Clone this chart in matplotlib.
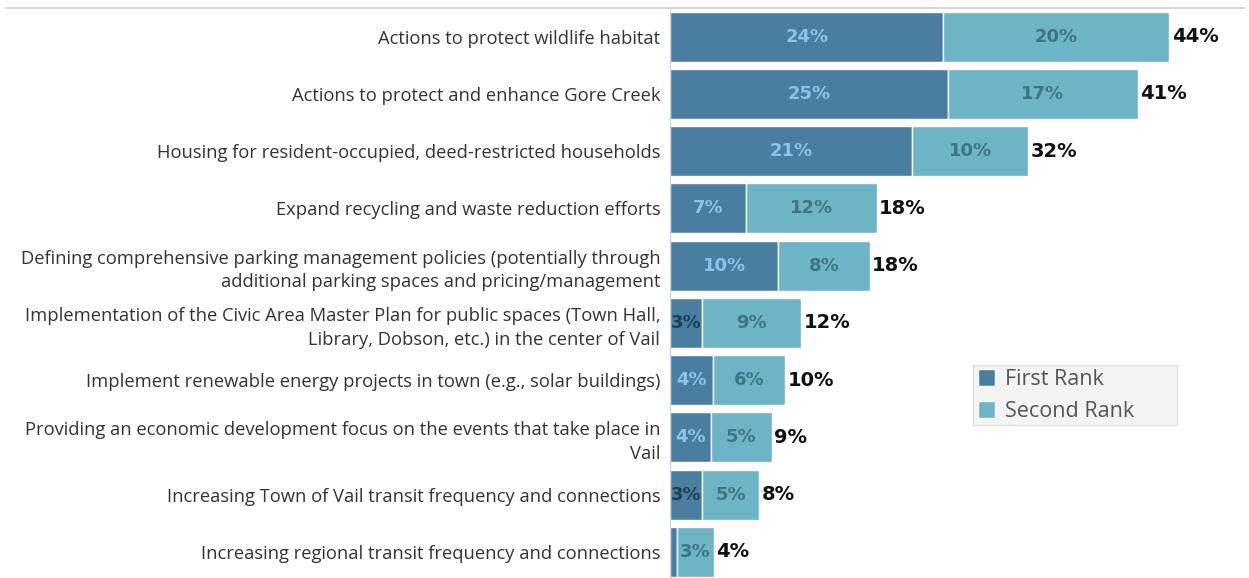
import matplotlib
matplotlib.use('Agg')
import matplotlib.pyplot as plt
from matplotlib.patches import Patch, Rectangle
from matplotlib.lines import Line2D
import numpy as np

plt.rcParams['font.family'] = ['Open Sans', 'DejaVu Sans']

categories = [
    'Actions to protect wildlife habitat',
    'Actions to protect and enhance Gore Creek',
    'Housing for resident-occupied, deed-restricted households',
    'Expand recycling and waste reduction efforts',
    'Defining comprehensive parking management policies (potentially through\nadditional parking spaces and pricing/management',
    'Implementation of the Civic Area Master Plan for public spaces (Town Hall,\nLibrary, Dobson, etc.) in the center of Vail',
    'Implement renewable energy projects in town (e.g., solar buildings)',
    'Providing an economic development focus on the events that take place in\nVail',
    'Increasing Town of Vail transit frequency and connections',
    'Increasing regional transit frequency and connections',
]
first_rank = [24.2, 24.6, 21.4, 6.7, 9.6, 2.8, 3.8, 3.6, 2.8, 0.6]
second_rank = [20.0, 16.8, 10.3, 11.6, 8.1, 8.8, 6.4, 5.4, 5.1, 3.3]
series_names = ['First Rank', 'Second Rank']

c_first = '#4a7ea0'
c_second = '#6db5c6'

W, H = 1249, 578
fig = plt.figure(figsize=(W / 100, H / 100), dpi=100)
ax_left = 670 / W
px_per_pct = 11.3
ax_w = (W - 670) / W
ax = fig.add_axes([ax_left, 0, ax_w, 1 - 8 / H])

y = np.arange(len(categories))
first = np.array(first_rank)
second = np.array(second_rank)
ax.barh(y, first, height=0.875, color=c_first, edgecolor='white', linewidth=1)
ax.barh(y, second, left=first, height=0.875, color=c_second,
        edgecolor='white', linewidth=1)

num_font = ['DejaVu Sans']
for i in range(len(categories)):
    f, s = first[i], second[i]
    if f >= 1.5:
        col = '#1f3f58' if f < 3 else '#8cc3ec'
        ax.text(f / 2, i, '%d%%' % round(f), ha='center', va='center',
                fontsize=13, fontweight='bold', color=col, family=num_font)
    ax.text(f + s / 2, i, '%d%%' % round(s), ha='center', va='center',
            fontsize=13, fontweight='bold', color='#3d7682', family=num_font)
    ax.text(f + s + 0.2, i, '%d%%' % round(f + s), ha='left', va='center',
            fontsize=14, fontweight='bold', color='#111111', family=num_font)

ax.set_xlim(0, (W - 670) / px_per_pct)
ax.set_ylim(len(categories) - 0.545, -0.5)
ax.set_yticks(y)
ax.set_yticklabels(categories, fontsize=13.2, color='#333333', linespacing=1.4)
ax.tick_params(axis='y', length=0, pad=7)
ax.set_xticks([])
for sp in ['top', 'right', 'bottom']:
    ax.spines[sp].set_visible(False)
ax.spines['left'].set_color('#d0d0d0')

fig.add_artist(Line2D([6 / W, 1245 / W], [1 - 8 / H, 1 - 8 / H],
                      transform=fig.transFigure, color='#d0d0d0', lw=1.2))

# legend box (fixed width like the original)
fig.add_artist(Rectangle((973 / W, 1 - 425 / H), 204 / W, 60 / H,
                         transform=fig.transFigure, facecolor='#f4f4f4',
                         edgecolor='#e0e0e0', lw=1))
handles = [Patch(facecolor=c_first, edgecolor='white'),
           Patch(facecolor=c_second, edgecolor='white')]
leg = fig.legend(handles, series_names, loc='upper left',
                 bbox_to_anchor=(978 / W, 1 - 369 / H), fontsize=15.5,
                 frameon=False, handlelength=0.8, handleheight=0.8,
                 handletextpad=0.45, labelspacing=0.5,
                 borderpad=0, borderaxespad=0)
for t in leg.get_texts():
    t.set_color('#555555')

fig.savefig('out.png', dpi=100)
